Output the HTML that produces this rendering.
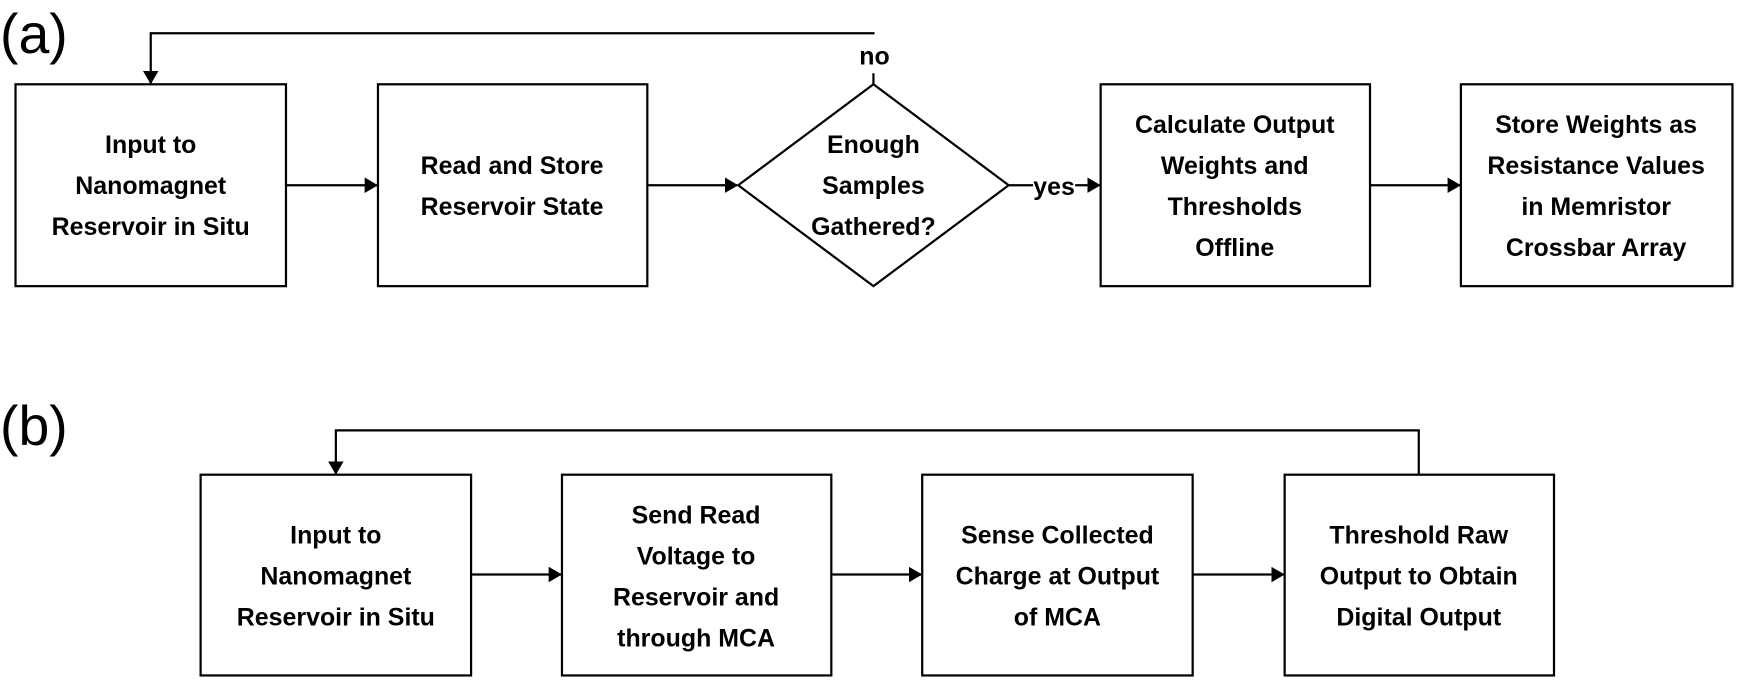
<!DOCTYPE html>
<html><head><meta charset="utf-8"><style>
html,body{margin:0;padding:0;background:#fff;}
svg{display:block;}
text{font-family:"Liberation Sans",sans-serif;font-weight:bold;font-size:22.5px;fill:#000;text-anchor:middle;}
.lab{font-weight:normal;font-size:50px;text-anchor:start;}
</style></head><body>
<svg width="1738" height="681" viewBox="0 0 1568 614" preserveAspectRatio="none" xmlns="http://www.w3.org/2000/svg">
<defs><marker id="a" markerWidth="12" markerHeight="14" refX="11" refY="7" orient="auto" markerUnits="userSpaceOnUse"><path d="M0,0 L12,7 L0,14 z" fill="#000"/></marker></defs>
<g fill="none" stroke="#000" stroke-width="2">
<rect x="14" y="76" width="244" height="182"/>
<rect x="341" y="76" width="243" height="182"/>
<polygon points="788,76 910,167 788,258 666,167"/>
<rect x="993" y="76" width="243" height="182"/>
<rect x="1318" y="76" width="245" height="182"/>
<line x1="258" y1="167" x2="340" y2="167" marker-end="url(#a)"/>
<line x1="584" y1="167" x2="665" y2="167" marker-end="url(#a)"/>
<line x1="910" y1="167" x2="932" y2="167"/>
<line x1="970" y1="167" x2="992" y2="167" marker-end="url(#a)"/>
<line x1="1236" y1="167" x2="1317" y2="167" marker-end="url(#a)"/>
<polyline points="789,30 136,30 136,75" marker-end="url(#a)"/>
<line x1="788" y1="66" x2="788" y2="76"/>
<rect x="181" y="428" width="244" height="181"/>
<rect x="507" y="428" width="243" height="181"/>
<rect x="832" y="428" width="244" height="181"/>
<rect x="1159" y="428" width="243" height="181"/>
<line x1="425" y1="518" x2="506" y2="518" marker-end="url(#a)"/>
<line x1="750" y1="518" x2="831" y2="518" marker-end="url(#a)"/>
<line x1="1076" y1="518" x2="1158" y2="518" marker-end="url(#a)"/>
<polyline points="1280,428 1280,388 303,388 303,427" marker-end="url(#a)"/>
</g>
<text class="lab" x="0" y="48">(a)</text>
<text class="lab" x="0" y="401">(b)</text>
<text x="789" y="58">no</text>
<text x="951" y="176">yes</text>
<text x="136" y="138">Input to</text><text x="136" y="175">Nanomagnet</text><text x="136" y="212">Reservoir in Situ</text>
<text x="462" y="157">Read and Store</text><text x="462" y="194">Reservoir State</text>
<text x="788" y="138">Enough</text><text x="788" y="175">Samples</text><text x="788" y="212">Gathered?</text>
<text x="1114" y="120">Calculate Output</text><text x="1114" y="157">Weights and</text><text x="1114" y="194">Thresholds</text><text x="1114" y="231">Offline</text>
<text x="1440" y="120">Store Weights as</text><text x="1440" y="157">Resistance Values</text><text x="1440" y="194">in Memristor</text><text x="1440" y="231">Crossbar Array</text>
<text x="303" y="490">Input to</text><text x="303" y="527">Nanomagnet</text><text x="303" y="564">Reservoir in Situ</text>
<text x="628" y="472">Send Read</text><text x="628" y="509">Voltage to</text><text x="628" y="546">Reservoir and</text><text x="628" y="583">through MCA</text>
<text x="954" y="490">Sense Collected</text><text x="954" y="527">Charge at Output</text><text x="954" y="564">of MCA</text>
<text x="1280" y="490">Threshold Raw</text><text x="1280" y="527">Output to Obtain</text><text x="1280" y="564">Digital Output</text>
</svg>
</body></html>
